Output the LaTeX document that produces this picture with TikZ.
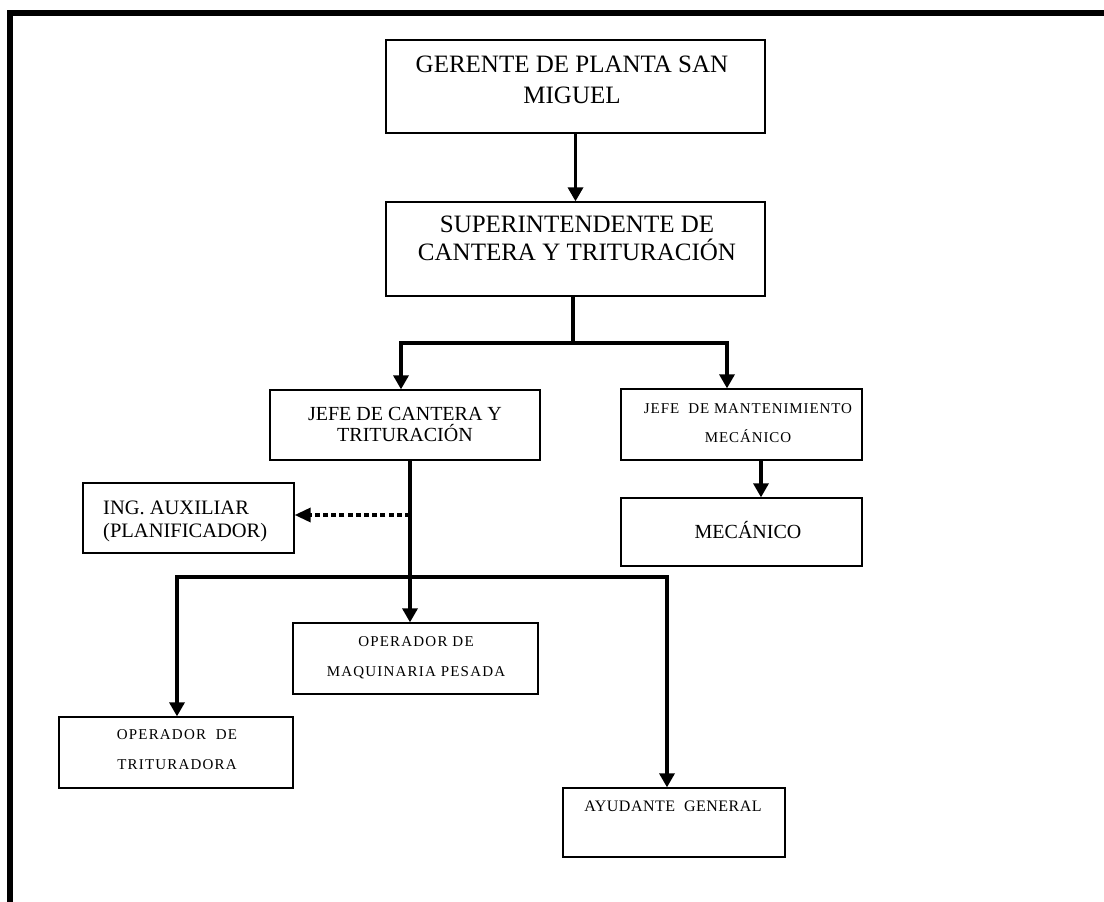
\documentclass[tikz,border=0pt]{standalone}
\usepackage{fontspec}
\setmainfont{Liberation Serif}
\usetikzlibrary{arrows.meta,calc}

\begin{document}
\begin{tikzpicture}[x=1pt,y=-1pt,
  box/.style={draw, rectangle, line width=1.3pt, inner sep=0pt},
  lbl/.style={inner sep=0pt, align=center, anchor=base},
  bus/.style={line width=3.3pt},
  link/.style={line width=3.3pt, -{Triangle[width=15pt,length=14pt]}},
  dotlink/.style={line width=3.3pt, dash pattern=on 5pt off 3.2pt,
                  -{Triangle[width=14pt,length=16pt]}},
  big/.style={font=\fontsize{25}{31}\selectfont},
  mid/.style={font=\fontsize{20}{21}\selectfont},
  small/.style={font=\fontsize{15}{30}\selectfont\addfontfeature{LetterSpace=8}}]

\useasboundingbox (0,0) rectangle (1104,902);

% page frame (top and left rule)
\draw[line width=6pt] (10,915) -- (10,13) -- (1115,13);

% boxes
\node[box, minimum width=379pt, minimum height=93pt] (gerente) at (575.5,86.5) {};
\node[box, minimum width=379pt, minimum height=94pt] (super)   at (575.5,249) {};
\node[box, minimum width=270pt, minimum height=70pt] (jefeC)   at (405,425) {};
\node[box, minimum width=241pt, minimum height=71pt] (jefeM)   at (741.5,424.5) {};
\node[box, minimum width=241pt, minimum height=68pt] (mec)     at (741.5,532) {};
\node[box, minimum width=211pt, minimum height=70pt] (ing)     at (188.5,518) {};
\node[box, minimum width=245pt, minimum height=71pt] (opmaq)   at (415.5,658.5) {};
\node[box, minimum width=234pt, minimum height=71pt] (optrit)  at (176,752.5) {};
\node[box, minimum width=222pt, minimum height=69pt] (ayu)     at (674,822.5) {};

% texts (multi-line labels are placed by the baseline of their last line)
\node[lbl, big] (gerenteT) at (572,103) {GERENTE DE PLANTA SAN\\MIGUEL};
\node[lbl, big, font=\fontsize{25}{28}\selectfont] (superT) at (577,260)
  {SUPERINTENDENTE DE\\CANTERA Y TRITURACIÓN};
\node[lbl, mid] (jefeCT) at (405,441) {JEFE DE CANTERA Y\\TRITURACIÓN};
\node[lbl, small, font=\fontsize{15}{29}\selectfont\addfontfeature{LetterSpace=6}]
  (jefeMT) at (748,442) {JEFE\ \ DE MANTENIMIENTO\\MECÁNICO};
\node[lbl, mid] (mecT) at (748,538) {MECÁNICO};
\node[lbl, align=left, anchor=base west, font=\fontsize{20.5}{23}\selectfont]
  (ingT) at (103,537) {ING. AUXILIAR\\(PLANIFICADOR)};
\node[lbl, small] (opmaqT) at (416,676) {OPERADOR DE\\MAQUINARIA PESADA};
\node[lbl, small] (optritT) at (177,769) {OPERADOR\ \ DE\\TRITURADORA};
\node[lbl, small, font=\fontsize{16}{30}\selectfont\addfontfeature{LetterSpace=3}]
  (ayuT) at (673,811) {AYUDANTE\ \ GENERAL};

% connectors
\draw[link] (gerente.south) -- (super.north);

\coordinate (j0) at (573,343);
\coordinate (jl) at (401,343);
\coordinate (jr) at (727,343);
\draw[link] (super.south -| j0) -- (j0) -| (jl |- jefeC.north);
\draw[link] (j0) -| (jr |- jefeM.north);

\coordinate (m0) at (761,470);
\draw[link] (jefeM.south -| m0) -- (mec.north -| m0);

\coordinate (c0) at (410,577);
\coordinate (cd) at (410,515);
\coordinate (cl) at (177,577);
\coordinate (cr) at (667,577);
\draw[bus] (jefeC.south -| c0) -- (c0);
\draw[dotlink] (cd) -- (ing.east |- cd);
\draw[link] (c0) -- (opmaq.north -| c0);
\draw[link] (c0) -| (optrit.north -| cl);
\draw[link] (c0) -| (ayu.north -| cr);

\end{tikzpicture}
\end{document}
